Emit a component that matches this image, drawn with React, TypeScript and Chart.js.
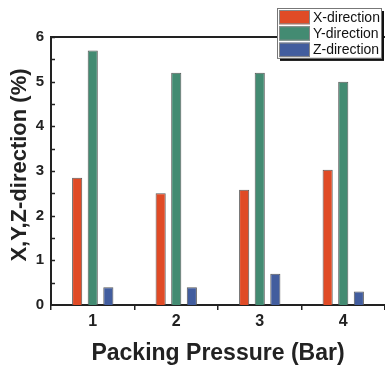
import React, { useEffect, useRef } from "react";
import { Chart, registerables } from "chart.js";

Chart.register(...registerables);

const categories = ["1", "2", "3", "4"];
const xDirection = [2.85, 2.5, 2.58, 3.03];
const yDirection = [5.7, 5.2, 5.2, 5.0];
const zDirection = [0.4, 0.4, 0.7, 0.3];
const seriesLabels = ["X-direction", "Y-direction", "Z-direction"];
const seriesColors = ["#E04B26", "#438B72", "#425D9E"];
const xTitle = "Packing Pressure (Bar)";
const yTitle = "X,Y,Z-direction (%)";

const FONT = "'Liberation Sans', Arial, sans-serif";

const framePlugin = {
  id: "framePlugin",
  afterDatasetsDraw(chart: any) {
    const { ctx, chartArea, scales } = chart;
    const y = scales.y;
    ctx.save();
    ctx.strokeStyle = "#222";
    ctx.lineWidth = 1.5;
    for (let v = 0.5; v <= 6; v += 0.5) {
      const py = Math.round(y.getPixelForValue(v)) + 0.5;
      ctx.beginPath();
      ctx.moveTo(chartArea.left, py);
      ctx.lineTo(chartArea.left + 4, py);
      ctx.stroke();
    }
    ctx.lineWidth = 2;
    ctx.beginPath();
    ctx.moveTo(chartArea.left - 1, chartArea.top);
    ctx.lineTo(chartArea.right, chartArea.top);
    ctx.stroke();
    ctx.restore();
  },
  afterDraw(chart: any) {
    const { ctx, chartArea } = chart;
    // y-axis title
    ctx.save();
    ctx.translate(20, (chartArea.top + chartArea.bottom) / 2 - 6);
    ctx.rotate(-Math.PI / 2);
    ctx.font = `bold 22px ${FONT}`;
    ctx.fillStyle = "#222";
    ctx.textAlign = "center";
    ctx.textBaseline = "middle";
    ctx.fillText(yTitle, 0, 0);
    ctx.restore();

    // legend
    const bx = 277;
    const by = 8;
    const bw = 104;
    const rowH = 16.3;
    const bh = rowH * seriesLabels.length + 1;
    ctx.save();
    ctx.fillStyle = "#111";
    ctx.fillRect(bx + 3, by + 3, bw, bh);
    ctx.fillStyle = "#fff";
    ctx.fillRect(bx, by, bw, bh);
    ctx.strokeStyle = "#777";
    ctx.lineWidth = 1;
    ctx.strokeRect(bx + 0.5, by + 0.5, bw, bh);
    ctx.font = `14px ${FONT}`;
    ctx.textBaseline = "middle";
    ctx.textAlign = "left";
    seriesLabels.forEach((label, i) => {
      const ry = by + 1 + i * rowH;
      ctx.fillStyle = seriesColors[i];
      ctx.fillRect(bx + 2, ry + 1, 31, rowH - 2);
      ctx.strokeStyle = "#888";
      ctx.strokeRect(bx + 2.5, ry + 1.5, 30, rowH - 3);
      ctx.fillStyle = "#111";
      ctx.fillText(label, bx + 36, ry + rowH / 2 + 0.5);
    });
    ctx.restore();
  },
};

export default function App() {
  const ref = useRef<HTMLCanvasElement | null>(null);
  useEffect(() => {
    if (!ref.current) return;
    const makeDs = (label: string, data: number[], color: string) => ({
      label,
      data,
      backgroundColor: color,
      borderColor: "#5a5a5a",
      borderWidth: 1,
      categoryPercentage: 0.56,
      barPercentage: 0.65,
    });
    const chart = new Chart(ref.current, {
      type: "bar",
      data: {
        labels: categories,
        datasets: [
          makeDs(seriesLabels[0], xDirection, seriesColors[0]),
          makeDs(seriesLabels[1], yDirection, seriesColors[1]),
          makeDs(seriesLabels[2], zDirection, seriesColors[2]),
        ],
      },
      options: {
        animation: false,
        responsive: false,
        layout: { padding: { top: 37, right: 0, left: 0, bottom: 0 } },
        plugins: {
          legend: { display: false },
          tooltip: { enabled: false },
        },
        scales: {
          x: {
            offset: true,
            grid: {
              display: true,
              drawOnChartArea: false,
              drawTicks: true,
              tickLength: 5,
              color: "#222",
              lineWidth: 1.5,
            },
            border: { display: true, color: "#222", width: 2 },
            ticks: {
              color: "#222",
              padding: 2,
              font: { family: FONT, size: 16, weight: "bold" },
            },
            title: {
              display: true,
              text: xTitle,
              color: "#222",
              padding: { top: 0, bottom: 2 },
              font: { family: FONT, size: 23, weight: "bold" },
            },
            afterFit(scale: any) {
              scale.height = 64;
            },
          },
          y: {
            min: 0,
            max: 6,
            ticks: {
              stepSize: 1,
              color: "#222",
              padding: 7,
              font: { family: FONT, size: 15, weight: "bold" },
            },
            grid: { display: false, drawTicks: false },
            border: { display: true, color: "#222", width: 2 },
            afterFit(scale: any) {
              scale.width = 51;
            },
          },
        },
      },
      plugins: [framePlugin],
    });
    return () => chart.destroy();
  }, []);
  return (
    <div style={{ position: "fixed", left: 0, top: 0, width: 385, height: 369, background: "#fff" }}>
      <canvas ref={ref} width={385} height={369} style={{ display: "block" }} />
    </div>
  );
}
